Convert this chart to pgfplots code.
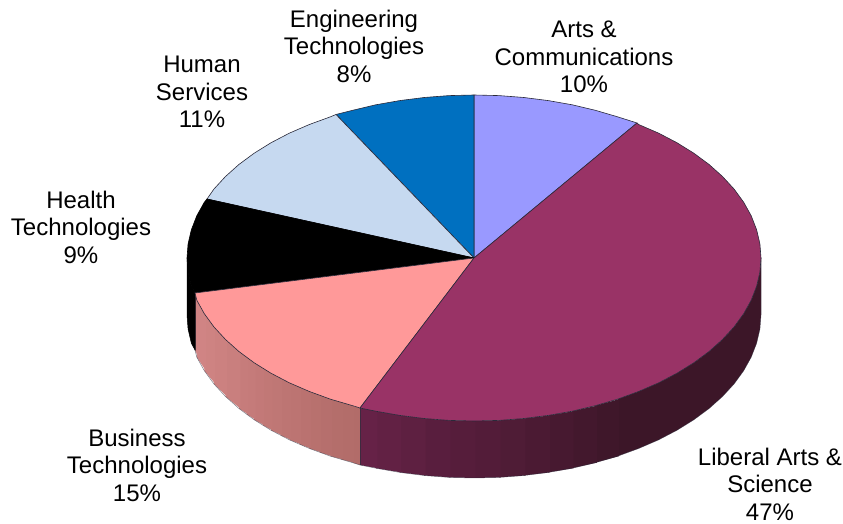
\documentclass[border=0pt]{standalone}
\usepackage{fontspec}
\setmainfont{Liberation Sans}
\usepackage{pgfplots}
\pgfplotsset{compat=1.18}

\definecolor{artsc}{HTML}{9999FF}
\definecolor{libc}{HTML}{993366}
\definecolor{busc}{HTML}{FF9999}
\definecolor{humc}{HTML}{C6D9F0}
\definecolor{engc}{HTML}{0070C0}
\definecolor{libL}{HTML}{662247}
\definecolor{libR}{HTML}{3C1628}
\definecolor{busL}{HTML}{D08484}
\definecolor{busR}{HTML}{B26C69}
\definecolor{edge}{HTML}{2A2A3A}

% one vertical strip of the pie's rim, 57 units deep, lapping 1.5 over the strip drawn before it
\newcommand{\rim}[5]{\addplot[fill=#5,draw=none] coordinates {(#1+1.5,#2) (#3,#4) ({#3},{#4-57}) ({#1+1.5},{#2-57})} -- cycle;}

\tikzset{lab/.style={align=center,inner sep=0pt,font=\fontsize{24}{27.5}\selectfont,text=black}}

\begin{document}
\begin{tikzpicture}
\begin{axis}[
    width=843pt, height=524pt, scale only axis,
    xmin=0, xmax=843, ymin=0, ymax=524,
    hide axis, clip=false]

\path (rel axis cs:0,0) (rel axis cs:1,1);

% rim: liberal arts, dark part in one piece
\addplot[fill=libR,draw=none] coordinates {(761,266) (759.9,251.8) (756.6,237.7) (751.2,223.8) (743.7,210.3) (734.1,197.1) (722.5,184.5) (709.1,172.5) (693.8,161.2) (676.9,150.7) (658.5,141.1) (638.6,132.5) (617.5,124.8) (617.5,67.8) (638.6,75.5) (658.5,84.1) (676.9,93.7) (693.8,104.2) (709.1,115.5) (722.5,127.5) (734.1,140.1) (743.7,153.3) (751.2,166.8) (756.6,180.7) (759.9,194.8) (761,209)} -- cycle;
% rim: liberal arts, gradient part
\rim{617.5}{124.8}{595.3}{118.3}{libL!8!libR}
\rim{595.3}{118.3}{572.2}{112.8}{libL!16!libR}
\rim{572.2}{112.8}{548.3}{108.6}{libL!26!libR}
\rim{548.3}{108.6}{523.8}{105.5}{libL!36!libR}
\rim{523.8}{105.5}{499.0}{103.6}{libL!46!libR}
\rim{499.0}{103.6}{474}{103}{libL!54!libR}
\rim{474}{103}{449.0}{103.6}{libL!62!libR}
\rim{449.0}{103.6}{424.2}{105.5}{libL!70!libR}
\rim{424.2}{105.5}{399.7}{108.6}{libL!80!libR}
\rim{399.7}{108.6}{375.8}{112.8}{libL!90!libR}
\rim{375.8}{112.8}{360}{116}{libL}

% rim: business
\addplot[fill=busR,draw=none] coordinates {(360,116) (352.7,118.3) (352.7,61.3) (360,59)} -- cycle;
\rim{352.7}{118.3}{341.6}{121.5}{busL!4!busR}
\rim{341.6}{121.5}{330.5}{124.8}{busL!8!busR}
\rim{330.5}{124.8}{319.9}{128.6}{busL!14!busR}
\rim{319.9}{128.6}{309.4}{132.5}{busL!20!busR}
\rim{309.4}{132.5}{299.4}{136.8}{busL!26!busR}
\rim{299.4}{136.8}{289.5}{141.1}{busL!32!busR}
\rim{289.5}{141.1}{280.3}{145.9}{busL!38!busR}
\rim{280.3}{145.9}{271.1}{150.7}{busL!44!busR}
\rim{271.1}{150.7}{262.6}{155.9}{busL!50!busR}
\rim{262.6}{155.9}{254.2}{161.2}{busL!56!busR}
\rim{254.2}{161.2}{246.5}{166.8}{busL!62!busR}
\rim{246.5}{166.8}{238.9}{172.5}{busL!68!busR}
\rim{238.9}{172.5}{225.5}{184.5}{busL!78!busR}
\rim{225.5}{184.5}{213.9}{197.1}{busL!86!busR}
\rim{213.9}{197.1}{204.3}{210.3}{busL!94!busR}
\rim{204.3}{210.3}{196.8}{223.8}{busL}
\rim{196.8}{223.8}{195}{231}{busL}

% rim outlines
\addplot[edge,line width=0.5pt,opacity=0.7] coordinates {(360,116) (360,59)};
\addplot[edge,line width=0.5pt,opacity=0.7] coordinates {(195,231) (195,174)};
\addplot[edge,line width=0.5pt,opacity=0.6] coordinates {(761,266) (761,209) (759.9,194.8) (756.6,180.7) (751.2,166.8) (743.7,153.3) (734.1,140.1) (722.5,127.5) (709.1,115.5) (693.8,104.2) (676.9,93.7) (658.5,84.1) (638.6,75.5) (617.5,67.8) (595.3,61.3) (572.2,55.8) (548.3,51.6) (523.8,48.5) (499.0,46.6) (474,46) (449.0,46.6) (424.2,48.5) (399.7,51.6) (375.8,55.8) (360,59) (352.7,61.3) (330.5,67.8) (309.4,75.5) (289.5,84.1) (271.1,93.7) (254.2,104.2) (238.9,115.5) (225.5,127.5) (213.9,140.1) (204.3,153.3) (196.8,166.8) (195,174)};

% rim: health (black, seen at the far left)
\addplot[fill=black,draw=black,line width=0.5pt] coordinates {(195,231) (191.4,237.7) (188.1,251.8) (187,266) (187,209) (188.1,194.8) (191.4,180.7) (195,174)} -- cycle;

% top face
\addplot[fill=artsc,draw=edge,line width=0.6pt] coordinates {(474,266) (474,429) (499.0,428.4) (523.8,426.5) (548.3,423.4) (572.2,419.2) (595.3,413.7) (617.5,407.2) (637,401)} -- cycle;
\addplot[fill=engc,draw=edge,line width=0.6pt] coordinates {(474,266) (336,409.5) (352.7,413.7) (375.8,419.2) (399.7,423.4) (424.2,426.5) (449.0,428.4) (474,429)} -- cycle;
\addplot[fill=humc,draw=edge,line width=0.6pt] coordinates {(474,266) (207,325) (213.9,334.9) (225.5,347.5) (238.9,359.5) (254.2,370.8) (271.1,381.3) (289.5,390.9) (309.4,399.5) (330.5,407.2) (336,409.5)} -- cycle;
\addplot[fill=black,draw=black,line width=0.6pt] coordinates {(474,266) (195,231) (191.4,237.7) (188.1,251.8) (187,266) (188.1,280.2) (191.4,294.3) (196.8,308.2) (204.3,321.7) (207,325)} -- cycle;
\addplot[fill=busc,draw=edge,line width=0.6pt] coordinates {(474,266) (360,116) (352.7,118.3) (330.5,124.8) (309.4,132.5) (289.5,141.1) (271.1,150.7) (254.2,161.2) (238.9,172.5) (225.5,184.5) (213.9,197.1) (204.3,210.3) (196.8,223.8) (195,231)} -- cycle;
\addplot[fill=libc,draw=edge,line width=0.6pt] coordinates {(474,266) (637,401) (638.6,399.5) (658.5,390.9) (676.9,381.3) (693.8,370.8) (709.1,359.5) (722.5,347.5) (734.1,334.9) (743.7,321.7) (751.2,308.2) (756.6,294.3) (759.9,280.2) (761,266) (759.9,251.8) (756.6,237.7) (751.2,223.8) (743.7,210.3) (734.1,197.1) (722.5,184.5) (709.1,172.5) (693.8,161.2) (676.9,150.7) (658.5,141.1) (638.6,132.5) (617.5,124.8) (595.3,118.3) (572.2,112.8) (548.3,108.6) (523.8,105.5) (499.0,103.6) (474,103) (449.0,103.6) (424.2,105.5) (399.7,108.6) (375.8,112.8) (360,116)} -- cycle;

% labels
\node[lab] at (axis cs:354,478) {Engineering\\Technologies\\8\%};
\node[lab] at (axis cs:584,467) {Arts \&\\Communications\\10\%};
\node[lab] at (axis cs:202,432) {Human\\Services\\11\%};
\node[lab] at (axis cs:81,297) {Health\\Technologies\\9\%};
\node[lab] at (axis cs:137,59) {Business\\Technologies\\15\%};
\node[lab] at (axis cs:770,40) {Liberal Arts \&\\Science\\47\%};
\end{axis}
\end{tikzpicture}
\end{document}
